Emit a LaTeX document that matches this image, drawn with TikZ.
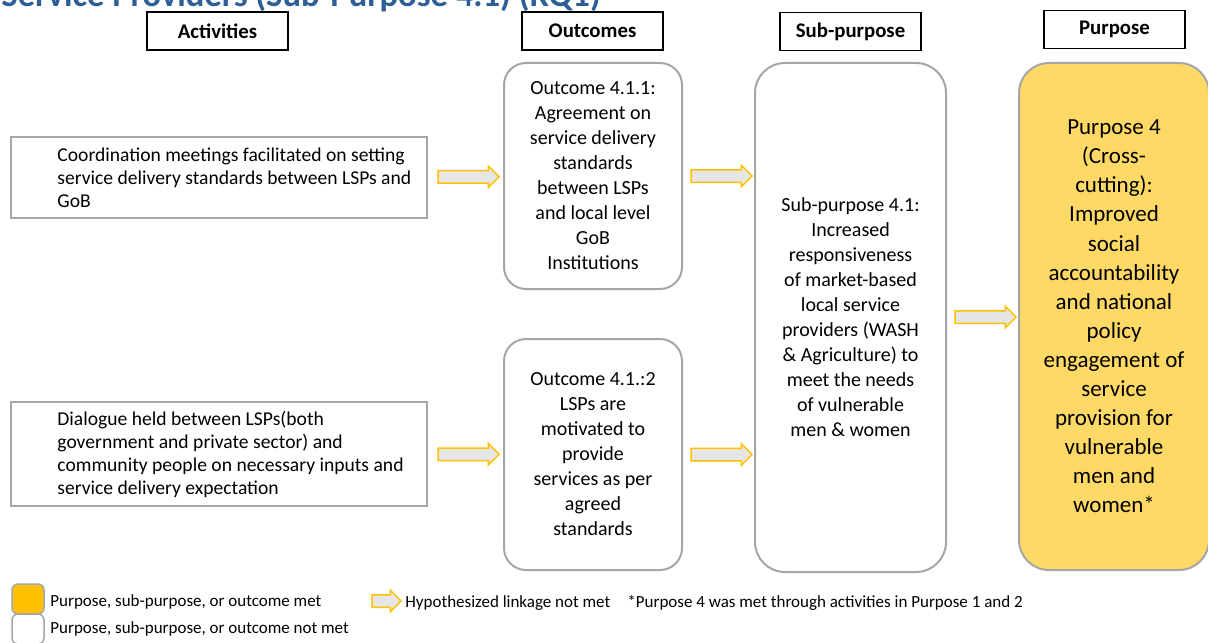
\documentclass[tikz,border=0pt]{standalone}
\usepackage{fontspec}
\setmainfont{Carlito}
\usetikzlibrary{shapes.arrows,calc}

\definecolor{ttlblue}{RGB}{46,94,150}
\definecolor{gold}{RGB}{255,192,0}
\definecolor{lgold}{RGB}{255,217,102}
\definecolor{bord}{RGB}{166,166,166}
\definecolor{arfill}{RGB}{231,230,230}

\begin{document}
\begin{tikzpicture}[x=0.5pt,y=-0.5pt,
        hd/.style={draw=black, line width=0.75pt, inner sep=0pt,
                        minimum width=70.5pt, minimum height=19pt,
                        font=\fontsize{10.4}{12}\selectfont\bfseries},
        act/.style={draw=bord, line width=1pt, inner sep=0pt,
                        minimum width=208pt},
        actt/.style={anchor=west, align=left, inner sep=0pt,
                        font=\fontsize{9.8}{11.5}\selectfont},
        oc/.style={draw=bord, line width=1pt, rounded corners=11pt,
                        inner sep=0pt, minimum width=89pt, align=center,
                        font=\fontsize{10}{12.5}\selectfont},
        sp/.style={draw=bord, line width=1pt, rounded corners=15pt,
                        inner sep=0pt, minimum width=95.5pt, minimum height=254.5pt,
                        align=center, font=\fontsize{10}{12.5}\selectfont},
        pp/.style={draw=bord, line width=1pt, rounded corners=15pt, fill=lgold,
                        inner sep=0pt, minimum width=95pt, minimum height=253.5pt,
                        align=center, font=\fontsize{11.5}{14.55}\selectfont},
        ar/.style={single arrow, draw=gold, fill=arfill, line width=0.75pt,
                        inner xsep=0pt, inner ysep=2.75pt, minimum height=30.5pt,
                        minimum width=10pt, single arrow head extend=2.25pt},
        lg/.style={anchor=west, inner sep=0pt, font=\fontsize{8.5}{10}\selectfont},
        lgbox/.style={draw=bord, line width=0.75pt, rounded corners=3pt,
                        minimum width=16pt, minimum height=15pt, inner sep=0pt}]
    \useasboundingbox (0,0) rectangle (1208,642);

    % title, cut by the top edge
    \node[anchor=base west, inner sep=0pt, text=ttlblue,
          font=\fontsize{17.3}{20}\selectfont\bfseries]
          (ttl) at (1,7) {Service Providers (Sub-Purpose 4.1) (RQ1)};

    % column heads
    \node[hd] (hact) at (217.5,31) {Activities};
    \node[hd] (hout) at (592.5,31) {Outcomes};
    \node[hd] (hsub) at (850.5,31.5) {Sub-purpose};
    \node[hd] (hpur) at (1114.5,29.5) {Purpose};

    % activities
    \node[act, minimum height=40.5pt] (act1) at (219,177.5) {};
    \node[actt] (act1t) at (57,177.5)
        {Coordination meetings facilitated on setting\\
         service delivery standards between LSPs and\\
         GoB};
    \node[act, minimum height=52pt] (act2) at (219,454) {};
    \node[actt] (act2t) at (57,454)
        {Dialogue held between LSPs(both\\
         government and private sector) and\\
         community people on necessary inputs and\\
         service delivery expectation};

    % outcomes
    \node[oc, minimum height=113pt] (out1) at (593,176)
        {Outcome 4.1.1:\\Agreement on\\service delivery\\standards\\between LSPs\\
         and local level\\GoB\\Institutions};
    \node[oc, minimum height=115.5pt] (out2) at (593,454.5)
        {Outcome 4.1.:2\\LSPs are\\motivated to\\provide\\services as per\\
         agreed\\standards};

    % sub-purpose and purpose
    \node[sp] (sub) at (850.5,317.5)
        {Sub-purpose 4.1:\\Increased\\responsiveness\\of market-based\\local service\\
         providers (WASH\\\& Agriculture) to\\meet the needs\\of vulnerable\\men \& women};
    \node[pp] (pur) at (1114,316.5)
        {Purpose 4\\(Cross-\\cutting):\\Improved\\social\\accountability\\and national\\
         policy\\engagement of\\service\\provision for\\vulnerable\\men and\\women*};

    % linkages
    \node[ar] (a1) at ($(act1.east)!0.5!(out1.west)$) {};
    \node[ar] (a2) at ($(out1.east)!0.5!(out1.east -| sub.west)$) {};
    \node[ar] (a3) at ($(act2.east)!0.5!(out2.west)$) {};
    \node[ar] (a4) at ($(out2.east)!0.5!(out2.east -| sub.west)$) {};
    \node[ar] (a5) at ($(sub.east)!0.5!(pur.west)$) {};

    % legend
    \node[lgbox, fill=gold] (lmet) at (28,599) {};
    \node[lgbox, fill=white] (lnot) at (28,629) {};
    \node[lg] (lmett) at (50,602) {Purpose, sub-purpose, or outcome met};
    \node[lg] (lnott) at (50,629) {Purpose, sub-purpose, or outcome not met};
    \node[ar, minimum height=14.5pt] (lar) at (383.5,601) {};
    \node[lg] (lart) at (405,603) {Hypothesized linkage not met};
    \node[lg] (lnote) at (627,603) {*Purpose 4 was met through activities in Purpose 1 and 2};
\end{tikzpicture}
\end{document}
